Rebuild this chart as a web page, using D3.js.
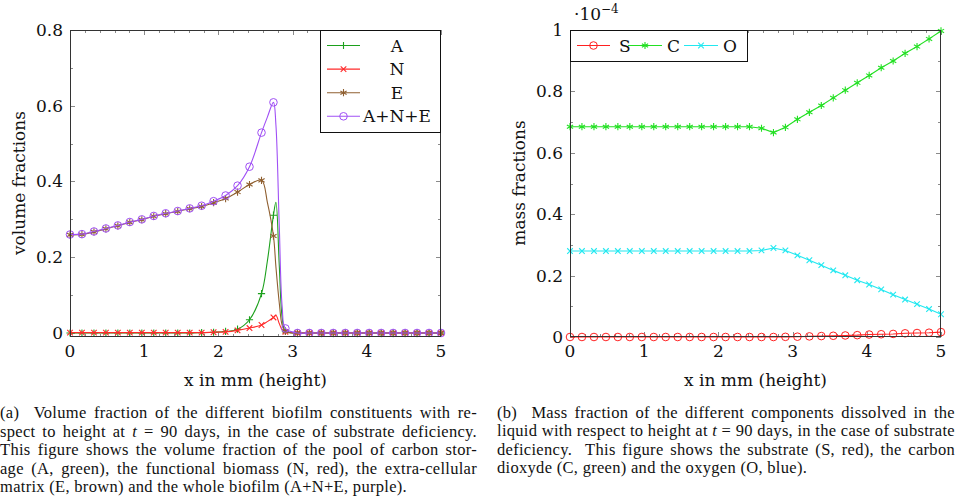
<!DOCTYPE html>
<html><head><meta charset="utf-8">
<script src="https://cdn.jsdelivr.net/npm/d3@7/dist/d3.min.js"></script>
<style>
html,body{margin:0;padding:0;background:#fff;}
svg{display:block;}
</style></head>
<body>
<svg id="chart" width="960" height="498"></svg>
<script>
// ---------- DATA ----------
const xs = [0,0.161,0.323,0.484,0.645,0.806,0.968,1.129,1.29,1.452,1.613,1.774,1.935,2.097,2.258,2.419,2.581,2.742,2.903,3.065,3.226,3.387,3.548,3.71,3.871,4.032,4.194,4.355,4.516,4.677,4.839,5];
// extra (unmarked) curve points of the left plot near the peak
const xsExtra = [2.66,2.775,2.82,2.86];

const seriesA   = [0,0,0,0,0,0,0,0,0,0,0,0.001,0.002,0.004,0.010,0.035,0.104,0.311,0.005,0,0,0,0,0,0,0,0,0,0,0,0,0];
const seriesN   = [0.001,0.001,0.001,0.001,0.001,0.001,0.001,0.001,0.001,0.001,0.001,0.001,0.002,0.003,0.007,0.013,0.021,0.041,0.003,0,0,0,0,0,0,0,0,0,0,0,0,0];
const seriesE   = [0.259,0.260,0.267,0.275,0.283,0.292,0.299,0.308,0.315,0.321,0.328,0.334,0.344,0.355,0.372,0.392,0.403,0.256,0.004,0,0,0,0,0,0,0,0,0,0,0,0,0];
const seriesANE = [0.260,0.261,0.268,0.276,0.284,0.293,0.300,0.309,0.316,0.322,0.329,0.336,0.348,0.363,0.389,0.439,0.529,0.609,0.012,0,0,0,0,0,0,0,0,0,0,0,0,0];
const extraA   = [0.19,0.345,0.18,0.04];
const extraN   = [0.030,0.047,0.025,0.008];
const extraE   = [0.345,0.175,0.08,0.02];
const extraANE = [0.57,0.55,0.285,0.068];

const seriesS = [0,0,0,0,0,0,0,0,0,0,0,0,0,0,0,0,0,0,0.0005,0.001,0.002,0.003,0.004,0.005,0.006,0.008,0.009,0.010,0.012,0.013,0.014,0.016];
const seriesC = [0.685,0.685,0.685,0.685,0.685,0.685,0.685,0.685,0.685,0.685,0.685,0.685,0.685,0.685,0.685,0.685,0.680,0.666,0.683,0.709,0.732,0.754,0.779,0.804,0.828,0.852,0.877,0.899,0.924,0.946,0.971,0.997];
const seriesO = [0.280,0.280,0.280,0.280,0.280,0.280,0.280,0.280,0.280,0.280,0.280,0.280,0.280,0.280,0.280,0.280,0.282,0.290,0.282,0.266,0.250,0.234,0.217,0.201,0.185,0.171,0.155,0.138,0.122,0.107,0.091,0.074];

const xTicks = [0,1,2,3,4,5];
const yTicksLeft = [0,0.2,0.4,0.6,0.8];
const yTicksRight = [0,0.2,0.4,0.6,0.8,1];
const leftLegend = ["A","N","E","A+N+E"];
const rightLegend = ["S","C","O"];

const captionLeft = [
  ["(a)  Volume fraction of the different biofilm constituents with re-"],
  ["spect to height at ", {i:"t"}, " = 90 days, in the case of substrate deficiency."],
  ["This figure shows the volume fraction of the pool of carbon stor-"],
  ["age (A, green), the functional biomass (N, red), the extra-cellular"],
  ["matrix (E, brown) and the whole biofilm (A+N+E, purple)."]
];
const captionRight = [
  ["(b)  Mass fraction of the different components dissolved in the"],
  ["liquid with respect to height at ", {i:"t"}, " = 90 days, in the case of substrate"],
  ["deficiency.  This figure shows the substrate (S, red), the carbon"],
  ["dioxyde (C, green) and the oxygen (O, blue)."]
];

// ---------- DRAW ----------
const svg = d3.select("#chart");
const FONT = "DejaVu Serif";

const markers = {
  plus: s => `M${-s},0H${s}M0,${-s}V${s}`,
  cross: s => `M${-s},${-s}L${s},${s}M${-s},${s}L${s},${-s}`,
  star: s => {
    const a = s*Math.cos(Math.PI/6), b = s*Math.sin(Math.PI/6);
    return `M0,${-s}V${s}M${-a},${-b}L${a},${b}M${-a},${b}L${a},${-b}`;
  }
};
function drawMarker(g, type, x, y, color) {
  if (type === "circle") {
    g.append("circle").attr("cx", x).attr("cy", y).attr("r", 3.8)
      .attr("fill", "none").attr("stroke", color).attr("stroke-width", 1);
  } else {
    const s = type === "cross" ? 2.8 : 3.6;
    g.append("path").attr("d", markers[type](s)).attr("transform", `translate(${x},${y})`)
      .attr("fill", "none").attr("stroke", color).attr("stroke-width", 1.1);
  }
}

function axesFrame(g, x, y, yTicks, yMinor, xMinor, labelX) {
  const [x0, x1] = x.range(), [yb, yt] = y.range();
  const tg = g.append("g").attr("stroke", "#8a8a8a").attr("stroke-width", 1);
  xMinor.forEach(v => {
    const px = Math.round(x(v)) + 0.5;
    tg.append("line").attr("x1", px).attr("x2", px).attr("y1", yb).attr("y2", yb - 3);
    tg.append("line").attr("x1", px).attr("x2", px).attr("y1", yt).attr("y2", yt + 3);
  });
  xTicks.forEach(v => {
    const px = Math.round(x(v)) + 0.5;
    tg.append("line").attr("x1", px).attr("x2", px).attr("y1", yb).attr("y2", yb - 5);
    tg.append("line").attr("x1", px).attr("x2", px).attr("y1", yt).attr("y2", yt + 5);
  });
  yMinor.forEach(v => {
    const py = Math.round(y(v)) + 0.5;
    tg.append("line").attr("x1", x0).attr("x2", x0 + 3).attr("y1", py).attr("y2", py);
    tg.append("line").attr("x1", x1).attr("x2", x1 - 3).attr("y1", py).attr("y2", py);
  });
  yTicks.forEach(v => {
    const py = Math.round(y(v)) + 0.5;
    tg.append("line").attr("x1", x0).attr("x2", x0 + 5).attr("y1", py).attr("y2", py);
    tg.append("line").attr("x1", x1).attr("x2", x1 - 5).attr("y1", py).attr("y2", py);
  });
  // labels
  const lg = g.append("g").attr("font-family", FONT).attr("font-size", 17).attr("fill", "#111");
  xTicks.forEach(v => lg.append("text").attr("x", x(v)).attr("y", 357).attr("text-anchor", "middle").text(d3.format("d")(v)));
  yTicks.forEach(v => lg.append("text").attr("x", x0 - 7).attr("y", y(v) + 6).attr("text-anchor", "end").text(v === 0 ? "0" : (v === 1 ? "1" : d3.format(".1f")(v))));
  lg.append("text").attr("x", (x0 + x1) / 2).attr("y", 386).attr("text-anchor", "middle").text("x in mm (height)");
  lg.append("text").attr("transform", `translate(${x0 - 45},183) rotate(-90)`).attr("text-anchor", "middle").text(labelX);
}
function frame(g, x, y) {
  const [x0, x1] = x.range(), [yb, yt] = y.range();
  g.append("rect").attr("x", x0 + 0.5).attr("y", yt + 0.5).attr("width", x1 - x0 - 1).attr("height", yb - yt - 1)
    .attr("fill", "none").attr("stroke", "#333").attr("stroke-width", 1);
}

const xMinor = d3.range(0, 5.001, 0.2).filter(v => Math.abs(v - Math.round(v)) > 1e-6);

// ----- LEFT PLOT -----
const xL = d3.scaleLinear().domain([0, 5]).range([70, 441]);
const yL = d3.scaleLinear().domain([-0.0106, 0.8]).range([337, 30]);
const gL = svg.append("g");
axesFrame(gL, xL, yL, yTicksLeft, [0.1,0.3,0.5,0.7], xMinor, "volume fractions");

const leftSeries = [
  {vals: seriesA, extra: extraA, color: "#1ca01c", mk: "plus"},
  {vals: seriesN, extra: extraN, color: "#ff2a2a", mk: "cross"},
  {vals: seriesE, extra: extraE, color: "#8f5f30", mk: "star"},
  {vals: seriesANE, extra: extraANE, color: "#a050f5", mk: "circle"}
];
const lineL = d3.line().x(d => xL(d[0])).y(d => yL(d[1])).curve(d3.curveCatmullRom.alpha(0.5));
leftSeries.forEach(s => {
  const pts = xs.map((x, i) => [x, s.vals[i]]).concat(xsExtra.map((x, i) => [x, s.extra[i]]))
    .sort((a, b) => a[0] - b[0]);
  gL.append("path").attr("d", lineL(pts)).attr("fill", "none").attr("stroke", s.color).attr("stroke-width", 1.1);
  const mg = gL.append("g");
  xs.forEach((x, i) => drawMarker(mg, s.mk, xL(x), yL(s.vals[i]), s.color));
});
frame(gL, xL, yL);

// left legend
const legL = gL.append("g");
legL.append("rect").attr("x", 320.5).attr("y", 30.5).attr("width", 120).attr("height", 102)
  .attr("fill", "#fff").attr("stroke", "#111").attr("stroke-width", 1);
leftLegend.forEach((name, i) => {
  const s = leftSeries[i], cy = 45.5 + i * 23.6;
  legL.append("line").attr("x1", 327).attr("x2", 360).attr("y1", cy).attr("y2", cy)
    .attr("stroke", s.color).attr("stroke-width", 1.1);
  drawMarker(legL, s.mk, 343.5, cy, s.color);
  legL.append("text").attr("x", 397).attr("y", cy + 6).attr("text-anchor", "middle")
    .attr("font-family", FONT).attr("font-size", 17).attr("fill", "#111").text(name);
});

// ----- RIGHT PLOT -----
const xR = d3.scaleLinear().domain([0, 5]).range([570, 941]);
const yR = d3.scaleLinear().domain([0, 1]).range([337, 30]);
const gR = svg.append("g");
axesFrame(gR, xR, yR, yTicksRight, [0.1,0.3,0.5,0.7,0.9], xMinor, "mass fractions");
const rightSeries = [
  {vals: seriesS, color: "#ff2020", mk: "circle"},
  {vals: seriesC, color: "#22e022", mk: "star"},
  {vals: seriesO, color: "#22e8f0", mk: "cross"}
];
const lineR = d3.line().x(d => xR(d[0])).y(d => yR(d[1]));
rightSeries.forEach(s => {
  const pts = xs.map((x, i) => [x, s.vals[i]]);
  gR.append("path").attr("d", lineR(pts)).attr("fill", "none").attr("stroke", s.color).attr("stroke-width", 1.1);
  const mg = gR.append("g");
  xs.forEach((x, i) => drawMarker(mg, s.mk, xR(x), yR(s.vals[i]), s.color));
});
frame(gR, xR, yR);
// exponent
const ex = gR.append("text").attr("x", 574).attr("y", 20).attr("font-family", FONT).attr("font-size", 17).attr("fill", "#111");
ex.append("tspan").text("·10");
ex.append("tspan").attr("dy", -7).attr("font-size", 12).text("−4");

// right legend
const legR = gR.append("g");
legR.append("rect").attr("x", 570.5).attr("y", 30.5).attr("width", 177).attr("height", 31)
  .attr("fill", "#fff").attr("stroke", "#111").attr("stroke-width", 1);
const legPos = [[577, 610, 619], [628, 662, 667], [684, 718, 723]];
rightLegend.forEach((name, i) => {
  const s = rightSeries[i], cy = 45.5, p = legPos[i];
  legR.append("line").attr("x1", p[0]).attr("x2", p[1]).attr("y1", cy).attr("y2", cy)
    .attr("stroke", s.color).attr("stroke-width", 1.1);
  drawMarker(legR, s.mk, (p[0] + p[1]) / 2, cy, s.color);
  legR.append("text").attr("x", p[2]).attr("y", cy + 6).attr("font-family", FONT).attr("font-size", 17)
    .attr("fill", "#111").text(name);
});

// ----- CAPTIONS -----
function caption(lines, x0, x1, y0, dy) {
  const g = svg.append("g").attr("font-family", "Liberation Serif").attr("font-size", 16.5)
    .attr("letter-spacing", 0.3).attr("fill", "#111");
  lines.forEach((parts, li) => {
    const t = g.append("text").attr("x", x0).attr("y", y0 + li * dy).attr("xml:space", "preserve");
    parts.forEach(p => {
      if (typeof p === "string") t.append("tspan").text(p);
      else t.append("tspan").attr("font-style", "italic").text(p.i);
    });
    if (li < lines.length - 1) {
      const full = parts.map(p => typeof p === "string" ? p : p.i).join("");
      const spaces = (full.match(/ /g) || []).length;
      const w = t.node().getComputedTextLength();
      if (spaces > 0) t.attr("word-spacing", (x1 - x0 - w) / spaces);
    }
  });
}
caption(captionLeft, 0, 477, 418, 18.6);
caption(captionRight, 497, 955, 418, 18.4);
</script>
</body></html>
